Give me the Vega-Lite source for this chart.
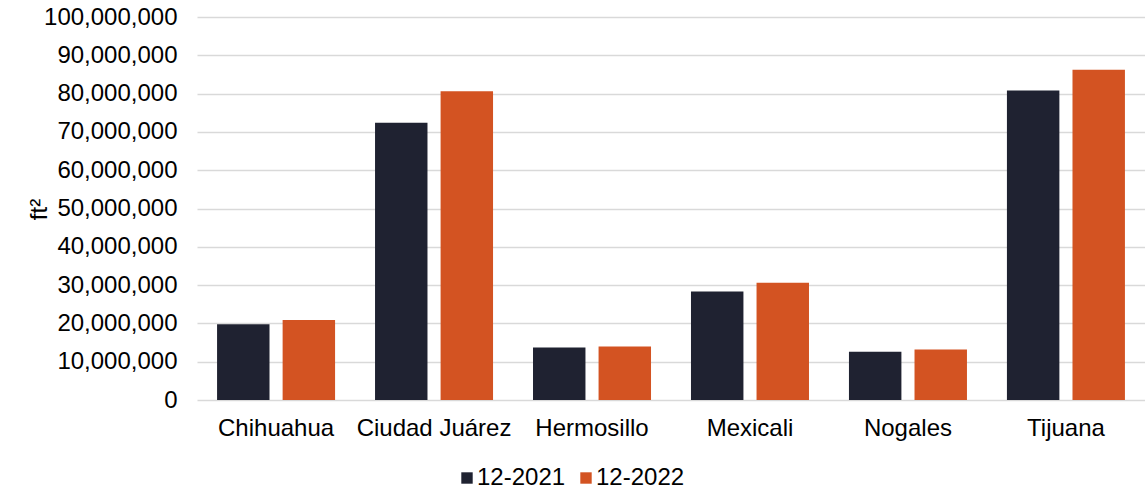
{
  "$schema": "https://vega.github.io/schema/vega-lite/v6.json",
  "width": 948,
  "height": 383,
  "autosize": {"type": "none"},
  "padding": {"left": 197, "top": 17, "right": 0, "bottom": 92},
  "background": "#ffffff",
  "config": {
    "font": "Liberation Sans",
    "view": {"stroke": null}
  },
  "data": {
    "values": [
      {"city": "Chihuahua", "period": "12-2021", "area": 19800000},
      {"city": "Chihuahua", "period": "12-2022", "area": 20900000},
      {"city": "Ciudad Juárez", "period": "12-2021", "area": 72400000},
      {"city": "Ciudad Juárez", "period": "12-2022", "area": 80600000},
      {"city": "Hermosillo", "period": "12-2021", "area": 13700000},
      {"city": "Hermosillo", "period": "12-2022", "area": 14000000},
      {"city": "Mexicali", "period": "12-2021", "area": 28300000},
      {"city": "Mexicali", "period": "12-2022", "area": 30600000},
      {"city": "Nogales", "period": "12-2021", "area": 12600000},
      {"city": "Nogales", "period": "12-2022", "area": 13200000},
      {"city": "Tijuana", "period": "12-2021", "area": 80800000},
      {"city": "Tijuana", "period": "12-2022", "area": 86200000}
    ]
  },
  "mark": {"type": "bar"},
  "encoding": {
    "x": {
      "field": "city",
      "type": "nominal",
      "sort": null,
      "scale": {"paddingInner": 0.253, "paddingOuter": 0.127},
      "axis": {
        "title": null,
        "labelAngle": 0,
        "labelFontSize": 24,
        "labelColor": "#000000",
        "labelPadding": 16,
        "domain": false,
        "ticks": false
      }
    },
    "xOffset": {
      "field": "period",
      "type": "nominal",
      "scale": {"paddingInner": 0.2, "paddingOuter": 0}
    },
    "y": {
      "field": "area",
      "type": "quantitative",
      "scale": {"domain": [0, 100000000], "nice": false},
      "axis": {
        "title": "ft²",
        "titleFontSize": 24,
        "titleFontWeight": "normal",
        "titleColor": "#000000",
        "titleAngle": -90,
        "titleX": -158,
        "titleY": 192,
        "titleAlign": "center",
        "titleBaseline": "middle",
        "values": [0, 10000000, 20000000, 30000000, 40000000, 50000000, 60000000, 70000000, 80000000, 90000000, 100000000],
        "format": ",d",
        "labelFontSize": 24,
        "labelColor": "#000000",
        "labelPadding": 20,
        "domain": false,
        "ticks": false,
        "grid": true,
        "gridColor": "#d9d9d9",
        "gridWidth": 1.5
      }
    },
    "color": {
      "field": "period",
      "type": "nominal",
      "scale": {"domain": ["12-2021", "12-2022"], "range": ["#1f2231", "#d35322"]},
      "legend": {
        "title": null,
        "orient": "none",
        "direction": "horizontal",
        "legendX": 258,
        "legendY": 449,
        "symbolType": "square",
        "symbolSize": 130,
        "symbolStrokeWidth": 0,
        "labelFontSize": 24,
        "labelColor": "#000000",
        "labelOffset": -2,
        "columnPadding": 8
      }
    }
  }
}
